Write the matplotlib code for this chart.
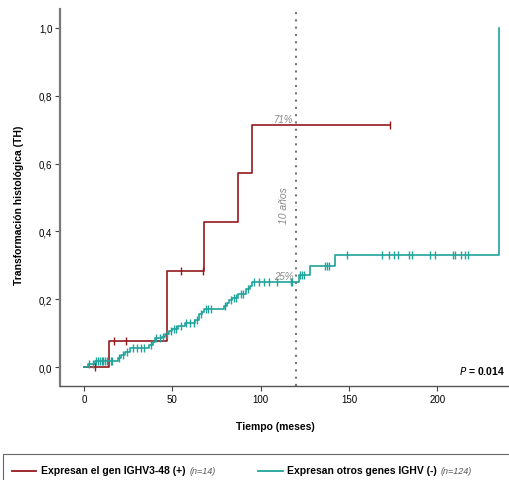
import numpy as np
import matplotlib
matplotlib.use("Agg")
import matplotlib.pyplot as plt
from matplotlib.lines import Line2D
from matplotlib.patches import Rectangle

plt.rcParams['font.family'] = ['Liberation Sans', 'DejaVu Sans']

# ---- data ----
red_times = [0, 14, 47, 68, 87, 95]
red_values = [0, 0.077, 0.282, 0.427, 0.571, 0.714]
red_end = 173
red_censor = [6, 17, 24, 55, 67.5, 173]

green_times = [0, 2, 6, 19, 21, 23, 26, 37, 39, 40, 44, 46, 48, 50, 53, 57, 63, 65, 67, 68,
               79, 81, 82, 84, 87, 92, 94, 95, 121.5, 122, 128, 142, 235]
green_values = [0, 0.010, 0.017, 0.027, 0.036, 0.045, 0.055, 0.065, 0.075, 0.085, 0.090, 0.097,
                0.105, 0.112, 0.120, 0.130, 0.140, 0.155, 0.163, 0.170,
                0.180, 0.190, 0.198, 0.205, 0.215, 0.230, 0.240, 0.250, 0.265, 0.272, 0.297, 0.330, 1.0]
green_end = 235
green_censor = [3, 5, 7, 8, 9, 10, 11, 12, 13, 15, 16, 20, 22, 24.5, 28, 30, 32, 34, 38, 41, 43,
                45, 47, 49, 51, 52, 55, 58, 60, 62, 64, 66, 69, 70, 72, 80, 83, 85, 86, 89, 90,
                93, 96, 99, 102, 105, 109, 117, 118, 122.5, 123.5, 124.5, 136.5, 137.5, 138.7,
                149, 168.6, 172.7, 175.5, 178, 184, 186, 196, 198.7, 209, 210, 213.5, 216, 217.5]

x_ticks = [0, 50, 100, 150, 200]
y_ticks = [0.0, 0.2, 0.4, 0.6, 0.8, 1.0]
y_ticklabels = ["0,0", "0,2", "0,4", "0,6", "0,8", "1,0"]

red_label = "Expresan el gen IGHV3-48 (+)"
red_n = "(n=14)"
green_label = "Expresan otros genes IGHV (-)"
green_n = "(n=124)"

RED = "#94191C"
GREEN = "#1FA39B"
GRAY = "#8A8A8A"

W, H = 509, 481
fig = plt.figure(figsize=(W / 100, H / 100), dpi=100)

# axes placement in pixels
xmin, xmax = -13.6, 245
px_per_month = 1.766
left_px = 60
right_px = left_px + (xmax - xmin) * px_per_month
ymin, ymax = -0.056, 1.056
bottom_px, top_px = 387, 10
ax = fig.add_axes([left_px / W, 1 - bottom_px / H, (right_px - left_px) / W, (bottom_px - top_px) / H])
ax.set_xlim(xmin, xmax)
ax.set_ylim(ymin, ymax)


def step_curve(times, values, end):
    xs = list(times) + [end]
    ys = list(values) + [values[-1]]
    return xs, ys


def value_at(times, values, t):
    idx = np.searchsorted(np.array(times), t, side='right') - 1
    return np.array(values)[idx]


for times, values, end, cens, col in [
    (red_times, red_values, red_end, red_censor, RED),
    (green_times, green_values, green_end, green_censor, GREEN),
]:
    xs, ys = step_curve(times, values, end)
    ax.step(xs, ys, where='post', color=col, lw=1.2, zorder=3)
    cy = value_at(times, values, np.array(cens))
    ax.plot(cens, cy, linestyle='none', marker='|', markersize=6, markeredgewidth=1.0,
            color=col, zorder=4)

# 10-year reference line
ax.axvline(120, color='#777777', lw=1.5, linestyle=(0, (1, 2.5)), zorder=2)
ax.text(118.5, 0.718, "71%", style='italic', color=GRAY, fontsize=7, ha='right', va='bottom')
ax.text(118.5, 0.254, "25%", style='italic', color=GRAY, fontsize=7, ha='right', va='bottom')
ax.text(113, 0.48, "10 años", style='italic', color=GRAY, fontsize=7.5, rotation=90,
        ha='center', va='center')
ax.text(212.5, -0.01, r"$\bf{\it{P}}$ = 0.014", fontsize=7.5, fontweight='bold', ha='left',
        va='center')

# axes styling
for s in ['top', 'right']:
    ax.spines[s].set_visible(False)
ax.spines['left'].set_color('#7A7A7A')
ax.spines['left'].set_linewidth(1.6)
ax.spines['bottom'].set_color('#555555')
ax.spines['bottom'].set_linewidth(1.0)
ax.set_xticks(x_ticks)
ax.set_yticks(y_ticks)
ax.set_yticklabels(y_ticklabels)
ax.tick_params(axis='both', labelsize=7, length=3.5, width=0.8, color='#444444', pad=2)
fig.text(19 / W, 1 - 205 / H, "Transformación histológica (TH)", fontsize=7.5,
         fontweight='bold', rotation=90, ha='center', va='center')
fig.text(275 / W, 1 - 427 / H, "Tiempo (meses)", fontsize=7.5, fontweight='bold',
         ha='center', va='center')

# legend box
fig.add_artist(Rectangle((3 / W, -0.05), 1.2, (1 - 455 / H) + 0.05, transform=fig.transFigure,
                         fill=False, edgecolor='#666666', lw=0.8))
ly = 1 - 471.5 / H
fig.add_artist(Line2D([12 / W, 36 / W], [ly, ly], color=RED, lw=1.3, transform=fig.transFigure))
fig.add_artist(Line2D([258 / W, 283 / W], [ly, ly], color=GREEN, lw=1.3, transform=fig.transFigure))
t1 = fig.text(41 / W, ly, red_label, fontsize=7.5, fontweight='bold', va='center')
t2 = fig.text(287 / W, ly, green_label, fontsize=7.5, fontweight='bold', va='center')
fig.canvas.draw()
r = fig.canvas.get_renderer()
for t, n in [(t1, red_n), (t2, green_n)]:
    bb = t.get_window_extent(renderer=r)
    fig.text((bb.x1 + 4) / W, ly, n, fontsize=6.5, style='italic', color='#555555', va='center')

fig.savefig("out.png", dpi=100)
